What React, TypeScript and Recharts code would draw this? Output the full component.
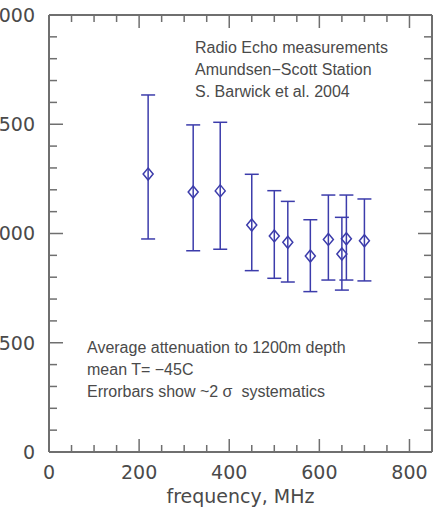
import * as React from "react";
import { ComposedChart, Scatter, ErrorBar, XAxis, YAxis } from "recharts";

// measured points: frequency (MHz), value, lower / upper end of error bar
const freq = [220, 320, 380, 450, 500, 530, 580, 620, 650, 660, 700];
const value = [1272, 1190, 1195, 1039, 989, 960, 897, 973, 906, 976, 967];
const lower = [975, 921, 928, 830, 795, 778, 734, 787, 741, 787, 783];
const upper = [1634, 1497, 1509, 1271, 1196, 1147, 1063, 1176, 1074, 1176, 1158];

const xTicks = [0, 50, 100, 150, 200, 250, 300, 350, 400, 450, 500, 550, 600, 650, 700, 750, 800];
const xMajor = [0, 200, 400, 600, 800];
const yTicks = [0, 100, 200, 300, 400, 500, 600, 700, 800, 900, 1000, 1100, 1200, 1300, 1400, 1500, 1600, 1700, 1800, 1900, 2000];
const yMajor = [0, 500, 1000, 1500, 2000];

const BLUE = "#3c3cab";
const AXIS = "#6f6f6f";
const TEXT = "#4a4a4a";
const TICK_FONT = "'DejaVu Sans', sans-serif";

const data = freq.map((f, i) => ({
  x: f,
  y: value[i],
  err: [value[i] - lower[i], upper[i] - value[i]],
}));

function BottomTick({ x, y, payload }: any) {
  const major = xMajor.includes(payload.value);
  return (
    <g>
      <line x1={x} x2={x} y1={y} y2={y - (major ? 13 : 7)} stroke={AXIS} strokeWidth={1.5} />
      {major && (
        <text x={x} y={y + 27} textAnchor="middle" fontSize={19} fill={TEXT} fontFamily={TICK_FONT}>
          {payload.value}
        </text>
      )}
    </g>
  );
}

function TopTick({ x, y, payload }: any) {
  const major = xMajor.includes(payload.value);
  return <line x1={x} x2={x} y1={y} y2={y + (major ? 13 : 7)} stroke={AXIS} strokeWidth={1.5} />;
}

function LeftTick({ x, y, payload }: any) {
  const major = yMajor.includes(payload.value);
  return (
    <g>
      <line x1={x} x2={x + (major ? 14 : 8)} y1={y} y2={y} stroke={AXIS} strokeWidth={1.5} />
      {major && (
        <text x={x - 14} y={y} dy="0.36em" textAnchor="end" fontSize={19} fill={TEXT} fontFamily={TICK_FONT}>
          {payload.value}
        </text>
      )}
    </g>
  );
}

function RightTick({ x, y, payload }: any) {
  const major = yMajor.includes(payload.value);
  return <line x1={x} x2={x - (major ? 14 : 8)} y1={y} y2={y} stroke={AXIS} strokeWidth={1.5} />;
}

function Diamond({ cx, cy }: any) {
  return (
    <path
      d={`M${cx},${cy - 6} L${cx + 5},${cy} L${cx},${cy + 6} L${cx - 5},${cy} Z`}
      fill="none"
      stroke={BLUE}
      strokeWidth={1.5}
    />
  );
}

const noteStyle: React.CSSProperties = {
  position: "absolute",
  fontFamily: "'Liberation Sans', Arial, sans-serif",
  fontSize: 16,
  lineHeight: "22px",
  color: TEXT,
  whiteSpace: "pre",
};

export default function App() {
  return (
    <div style={{ position: "absolute", left: 0, top: 0, width: 435, height: 511, overflow: "hidden", background: "#fff" }}>
      <div style={{ position: "absolute", left: -20, top: 0 }}>
        <ComposedChart width={455} height={511} data={data} margin={{ top: 14, right: 2, bottom: 0, left: 0 }}>
          <XAxis
            dataKey="x"
            type="number"
            domain={[0, 850]}
            ticks={xTicks}
            interval={0}
            height={59}
            tickSize={0}
            tickMargin={0}
            tickLine={false}
            axisLine={{ stroke: AXIS, strokeWidth: 2 }}
            tick={<BottomTick />}
            allowDataOverflow
            label={{ value: "frequency, MHz", position: "insideBottom", offset: 8, fontSize: 19, fill: TEXT, fontFamily: TICK_FONT }}
          />
          <XAxis
            xAxisId="top"
            orientation="top"
            dataKey="x"
            type="number"
            domain={[0, 850]}
            ticks={xTicks}
            interval={0}
            height={1}
            tickSize={0}
            tickMargin={0}
            tickLine={false}
            axisLine={{ stroke: AXIS, strokeWidth: 2 }}
            tick={<TopTick />}
            allowDataOverflow
          />
          <YAxis
            type="number"
            domain={[0, 2000]}
            ticks={yTicks}
            interval={0}
            width={69}
            tickSize={0}
            tickMargin={0}
            tickLine={false}
            axisLine={{ stroke: AXIS, strokeWidth: 2 }}
            tick={<LeftTick />}
            allowDataOverflow
          />
          <YAxis
            yAxisId="right"
            orientation="right"
            type="number"
            domain={[0, 2000]}
            ticks={yTicks}
            interval={0}
            width={1}
            tickSize={0}
            tickMargin={0}
            tickLine={false}
            axisLine={{ stroke: AXIS, strokeWidth: 2 }}
            tick={<RightTick />}
            allowDataOverflow
          />
          <Scatter dataKey="y" shape={<Diamond />} isAnimationActive={false}>
            <ErrorBar dataKey="err" direction="y" width={7} stroke={BLUE} strokeWidth={1.5} />
          </Scatter>
          <Scatter xAxisId="top" yAxisId="right" dataKey="y" shape={() => null} legendType="none" isAnimationActive={false} />
        </ComposedChart>
      </div>
      <div style={{ ...noteStyle, left: 195, top: 37 }}>
        {"Radio Echo measurements\nAmundsen\u2212Scott Station\nS. Barwick et al. 2004"}
      </div>
      <div style={{ ...noteStyle, left: 87, top: 337 }}>
        {"Average attenuation to 1200m depth\nmean T= \u221245C\nErrorbars show ~2 \u03c3  systematics"}
      </div>
    </div>
  );
}
